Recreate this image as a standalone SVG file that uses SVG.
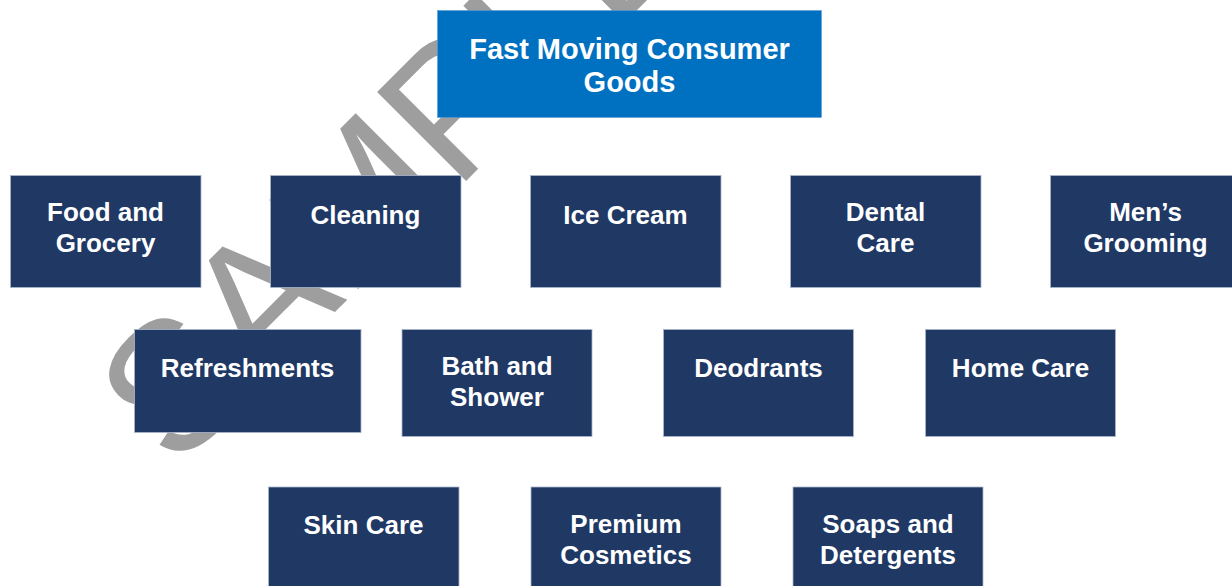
<svg xmlns="http://www.w3.org/2000/svg" width="1232" height="586" viewBox="0 0 1232 586">
<style>
.bg{fill:#ffffff}
.wm{font-family:"Liberation Sans",Arial,sans-serif;font-size:183px;fill:#9e9e9e}
.top{fill:#0070c0;stroke:#5b9bd5;stroke-width:0.6}
.box{fill:#203864;stroke:#aab6cb;stroke-width:0.8}
.lbl{font-family:"Liberation Sans",Arial,sans-serif;font-weight:bold;fill:#ffffff;text-anchor:middle}
.t1{font-size:29px}
.t2{font-size:26px}
</style>
<rect class="bg" x="0" y="0" width="1232" height="586"/>
<text class="wm" transform="translate(175,472) rotate(-45)" x="0" y="0">SAMPLE</text>
<g id="connectors"/>
<g id="fmcg">
<rect class="top" x="437.5" y="10.5" width="384" height="107"/>
<text class="lbl t1" x="629.5" y="59">Fast Moving Consumer</text>
<text class="lbl t1" x="629.5" y="92">Goods</text>
</g>
<g id="food-grocery">
<rect class="box" x="10.5" y="175.5" width="190.5" height="112"/>
<text class="lbl t2" x="105.5" y="221">Food and</text>
<text class="lbl t2" x="105.5" y="252">Grocery</text>
</g>
<g id="cleaning">
<rect class="box" x="270.5" y="175.5" width="190.5" height="112"/>
<text class="lbl t2" x="365.5" y="224">Cleaning</text>
</g>
<g id="ice-cream">
<rect class="box" x="530.5" y="175.5" width="190.5" height="112"/>
<text class="lbl t2" x="625.5" y="224">Ice Cream</text>
</g>
<g id="dental-care">
<rect class="box" x="790.5" y="175.5" width="190.5" height="112"/>
<text class="lbl t2" x="885.5" y="221">Dental</text>
<text class="lbl t2" x="885.5" y="252">Care</text>
</g>
<g id="mens-grooming">
<rect class="box" x="1050.5" y="175.5" width="190.5" height="112"/>
<text class="lbl t2" x="1145.5" y="221">Men’s</text>
<text class="lbl t2" x="1145.5" y="252">Grooming</text>
</g>
<g id="refreshments">
<rect class="box" x="134.5" y="329.5" width="226.5" height="103"/>
<text class="lbl t2" x="247.5" y="377">Refreshments</text>
</g>
<g id="bath-shower">
<rect class="box" x="402" y="329.5" width="190" height="107"/>
<text class="lbl t2" x="497" y="375">Bath and</text>
<text class="lbl t2" x="497" y="406">Shower</text>
</g>
<g id="deodrants">
<rect class="box" x="663.5" y="329.5" width="190" height="107"/>
<text class="lbl t2" x="758.5" y="377">Deodrants</text>
</g>
<g id="home-care">
<rect class="box" x="925.5" y="329.5" width="190" height="107"/>
<text class="lbl t2" x="1020.5" y="377">Home Care</text>
</g>
<g id="skin-care">
<rect class="box" x="268.5" y="487" width="190.5" height="110"/>
<text class="lbl t2" x="363.5" y="534">Skin Care</text>
</g>
<g id="premium-cosmetics">
<rect class="box" x="531" y="487" width="190" height="110"/>
<text class="lbl t2" x="626" y="533">Premium</text>
<text class="lbl t2" x="626" y="564">Cosmetics</text>
</g>
<g id="soaps-detergents">
<rect class="box" x="793" y="487" width="190" height="110"/>
<text class="lbl t2" x="888" y="533">Soaps and</text>
<text class="lbl t2" x="888" y="564">Detergents</text>
</g>
</svg>
